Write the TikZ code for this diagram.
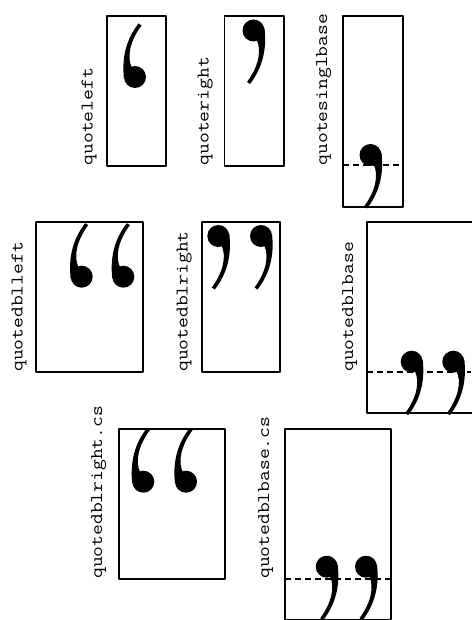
\documentclass[tikz,border=0pt]{standalone}
\newcommand\squash[1]{\scalebox{1}[0.85]{#1}}
\begin{document}
\begin{tikzpicture}[x=1pt,y=-1pt,line join=round,
    gname/.style={rotate=90,anchor=base west,inner sep=0pt,
      font=\ttfamily\fontsize{21}{21}\selectfont},
    gbox/.style={line width=1.8pt},
    gbase/.style={line width=1.4pt,dash pattern=on 6pt off 4pt},
    comma/.pic={
      \fill (0,0) circle (11);
      \fill (11,-2) .. controls (13.5,20) and (8.5,38) .. (-3.5,53.5)
        -- (-6.5,51.5) .. controls (5,36) and (8.5,20) .. (3,9) -- cycle;}]
\useasboundingbox (0,0) rectangle (471,620);
\node[gname] (ql) at (92.5,165.5) {\squash{quoteleft}};
\draw[gbox] (107,16) rectangle (166,166);
\pic[rotate=180] at (135,77) {comma};
\node[gname] (qr) at (208.5,165.5) {\squash{quoteright}};
\draw[gbox] (224.5,16) rectangle (284,166);
\pic at (253.5,30.5) {comma};
\node[gname] (qsb) at (327,165.5) {\squash{quotesinglbase}};
\draw[gbox] (343,16) rectangle (403,207);
\pic at (370.5,155) {comma};
\draw[gbase] (343,165) -- (403,165);
\node[gname] (qdl) at (22.5,372) {\squash{quotedblleft}};
\draw[gbox] (36,222) rectangle (143,372);
\pic[rotate=180] at (81.7,276.7) {comma};
\pic[rotate=180] at (123.3,276.7) {comma};
\node[gname] (qdr) at (187.5,372) {\squash{quotedblright}};
\draw[gbox] (202,222) rectangle (280,372);
\pic at (218.3,236) {comma};
\pic at (261,236) {comma};
\node[gname] (qdb) at (353,372) {\squash{quotedblbase}};
\draw[gbox] (367,222) rectangle (475,413);
\pic at (411.7,361.7) {comma};
\pic at (453.3,361.7) {comma};
\draw[gbase] (367,372) -- (471,372);
\node[gname] (qdrcs) at (102,579) {\squash{quotedblright.cs}};
\draw[gbox] (119,429) rectangle (225,579);
\pic[rotate=180] at (143.3,481.7) {comma};
\pic[rotate=180] at (186,481.7) {comma};
\node[gname] (qdbcs) at (269,579) {\squash{quotedblbase.cs}};
\draw[gbox] (285,429) rectangle (391,619.5);
\pic at (326.7,566.7) {comma};
\pic at (366,566.7) {comma};
\draw[gbase] (285,579) -- (391,579);
\end{tikzpicture}
\end{document}
